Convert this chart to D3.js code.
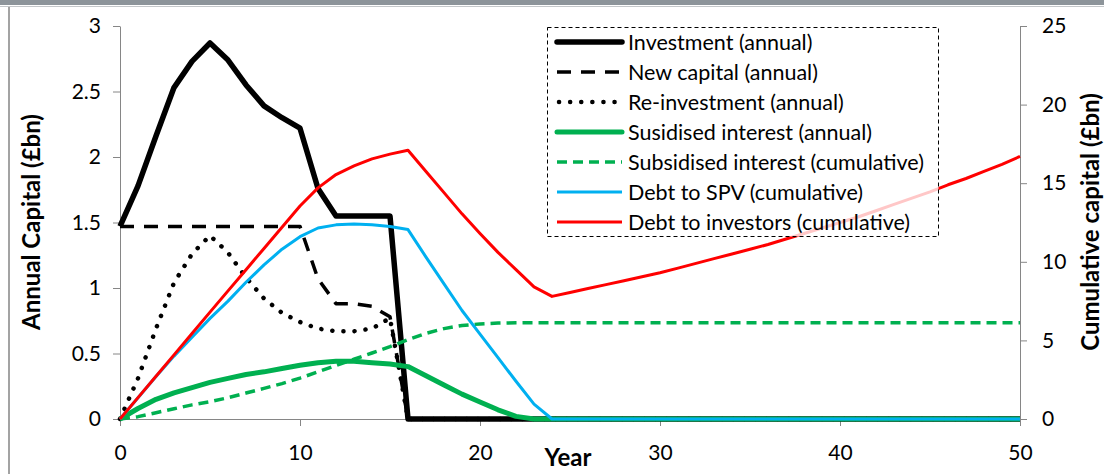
<!DOCTYPE html>
<html>
<head>
<meta charset="utf-8">
<script src="https://cdn.jsdelivr.net/npm/d3@7"></script>
<style>
  body { margin: 0; background: #fff; }
  svg text { font-family: Lato, "Open Sans", sans-serif; fill: #000; }
</style>
</head>
<body>
<div id="chart"></div>
<script>

// Values, one per year (0..50)
var investment = [1.47, 1.78, 2.16, 2.53, 2.73, 2.87, 2.74, 2.55, 2.39, 2.30,
  2.22, 1.76, 1.55, 1.55, 1.55, 1.55, 0, 0, 0, 0,
  0, 0, 0, 0, 0, 0, 0, 0, 0, 0,
  0, 0, 0, 0, 0, 0, 0, 0, 0, 0,
  0, 0, 0, 0, 0, 0, 0, 0, 0, 0, 0];

var newCapital = [1.47, 1.47, 1.47, 1.47, 1.47, 1.47, 1.47, 1.47, 1.47, 1.47,
  1.47, 1.07, 0.88, 0.88, 0.86, 0.78, 0, 0, 0, 0,
  0, 0, 0, 0, 0, 0, 0, 0, 0, 0,
  0, 0, 0, 0, 0, 0, 0, 0, 0, 0,
  0, 0, 0, 0, 0, 0, 0, 0, 0, 0, 0];

var reinvestment = [0, 0.31, 0.69, 1.04, 1.26, 1.40, 1.27, 1.08, 0.92, 0.81,
  0.74, 0.69, 0.67, 0.67, 0.69, 0.77, 0, 0, 0, 0,
  0, 0, 0, 0, 0, 0, 0, 0, 0, 0,
  0, 0, 0, 0, 0, 0, 0, 0, 0, 0,
  0, 0, 0, 0, 0, 0, 0, 0, 0, 0, 0];

var interestAnnual = [0, 0.08, 0.15, 0.20, 0.24, 0.28, 0.31, 0.34, 0.36, 0.385,
  0.41, 0.43, 0.44, 0.44, 0.43, 0.42, 0.40, 0.33, 0.26, 0.19,
  0.13, 0.07, 0.02, 0, 0, 0, 0, 0, 0, 0,
  0, 0, 0, 0, 0, 0, 0, 0, 0, 0,
  0, 0, 0, 0, 0, 0, 0, 0, 0, 0, 0];

// right axis (cumulative)
var interestCumulative = [0, 0.15, 0.4, 0.65, 0.9, 1.1, 1.35, 1.65, 1.95, 2.25,
  2.6, 3.0, 3.4, 3.8, 4.2, 4.6, 5.05, 5.45, 5.75, 5.95,
  6.05, 6.1, 6.12, 6.13, 6.13, 6.13, 6.13, 6.13, 6.13, 6.13,
  6.13, 6.13, 6.13, 6.13, 6.13, 6.13, 6.13, 6.13, 6.13, 6.13,
  6.13, 6.13, 6.13, 6.13, 6.13, 6.13, 6.13, 6.13, 6.13, 6.13, 6.13];

var debtSPV = [0, 1.35, 2.7, 4.0, 5.2, 6.4, 7.5, 8.7, 9.8, 10.8,
  11.6, 12.15, 12.35, 12.4, 12.35, 12.25, 12.05, 10.3, 8.6, 6.9,
  5.4, 3.9, 2.4, 0.95, 0, 0, 0, 0, 0, 0,
  0, 0, 0, 0, 0, 0, 0, 0, 0, 0,
  0, 0, 0, 0, 0, 0, 0, 0, 0, 0, 0];

var debtInvestors = [0, 1.36, 2.72, 4.08, 5.44, 6.8, 8.15, 9.5, 10.85, 12.2,
  13.55, 14.7, 15.55, 16.1, 16.55, 16.85, 17.1, 15.75, 14.4, 13.05,
  11.8, 10.6, 9.5, 8.4, 7.8, 8.05, 8.3, 8.55, 8.8, 9.05,
  9.3, 9.6, 9.9, 10.2, 10.5, 10.8, 11.1, 11.45, 11.8, 12.15,
  12.5, 12.85, 13.25, 13.65, 14.05, 14.45, 14.9, 15.3, 15.75, 16.2, 16.7];

var seriesNames = ["Investment (annual)", "New capital (annual)", "Re-investment (annual)",
  "Susidised interest (annual)", "Subsidised interest (cumulative)",
  "Debt to SPV (cumulative)", "Debt to investors (cumulative)"];

var xTicks = [0, 10, 20, 30, 40, 50];
var leftTicks = [0, 0.5, 1, 1.5, 2, 2.5, 3];
var rightTicks = [0, 5, 10, 15, 20, 25];

var W = 1104, H = 474;

var svg = d3.select("#chart").append("svg")
  .attr("width", W)
  .attr("height", H);

// window frame bits
svg.append("rect").attr("x", 0).attr("y", 0).attr("width", W).attr("height", 5).attr("fill", "#8d949a");
svg.append("line").attr("x1", 0).attr("x2", W).attr("y1", 6.5).attr("y2", 6.5).attr("stroke", "#c4c7ca").attr("stroke-width", 1);
svg.append("line").attr("x1", 9).attr("x2", 9).attr("y1", 7).attr("y2", H).attr("stroke", "#a3a3a3").attr("stroke-width", 2);

var x = d3.scaleLinear().domain([0, 50]).range([120, 1020]);
var yL = d3.scaleLinear().domain([0, 3]).range([419, 26]);
var yR = d3.scaleLinear().domain([0, 25]).range([419, 26]);

var axisColor = "#868686";

function styleAxis(g) {
  g.select(".domain").attr("stroke", axisColor);
  g.selectAll(".tick line").attr("stroke", axisColor);
  g.selectAll(".tick text").attr("font-size", 21).attr("font-family", "Lato");
}

svg.append("g")
  .attr("transform", "translate(120,0)")
  .call(d3.axisLeft(yL).tickValues(leftTicks).tickFormat(function(d) { return String(d); })
    .tickSizeInner(7).tickSizeOuter(0).tickPadding(12))
  .call(styleAxis);

svg.append("g")
  .attr("transform", "translate(1020,0)")
  .call(d3.axisRight(yR).tickValues(rightTicks).tickFormat(function(d) { return String(d); })
    .tickSizeInner(7).tickSizeOuter(0).tickPadding(15))
  .call(styleAxis);

svg.append("g")
  .attr("transform", "translate(0,419)")
  .call(d3.axisBottom(x).tickValues(xTicks).tickFormat(function(d) { return String(d); })
    .tickSizeInner(7).tickSizeOuter(0).tickPadding(19))
  .call(styleAxis);

// axis titles
svg.append("text")
  .attr("transform", "translate(40,222) rotate(-90)")
  .attr("text-anchor", "middle")
  .attr("font-size", 24).attr("font-weight", "bold")
  .text("Annual Capital (£bn)");

svg.append("text")
  .attr("transform", "translate(1099,222) rotate(-90)")
  .attr("text-anchor", "middle")
  .attr("font-size", 24).attr("font-weight", "bold")
  .text("Cumulative capital (£bn)");

svg.append("text")
  .attr("x", 568).attr("y", 466)
  .attr("text-anchor", "middle")
  .attr("font-size", 24).attr("font-weight", "bold")
  .text("Year");

// series styles, same order as seriesNames
var styles = [
  {data: investment, y: yL, color: "#000000", width: 5.5, dash: null, cap: "butt"},
  {data: newCapital, y: yL, color: "#000000", width: 3.5, dash: "14 10", cap: "butt"},
  {data: reinvestment, y: yL, color: "#000000", width: 4.5, dash: "0.1 11", cap: "round"},
  {data: interestAnnual, y: yL, color: "#00b050", width: 5, dash: null, cap: "butt"},
  {data: interestCumulative, y: yR, color: "#00b050", width: 3.5, dash: "10 6", cap: "butt"},
  {data: debtSPV, y: yR, color: "#00b0f0", width: 3, dash: null, cap: "butt"},
  {data: debtInvestors, y: yR, color: "#ff0000", width: 3, dash: null, cap: "butt"}
];

styles.forEach(function(s) {
  var line = d3.line()
    .x(function(d, i) { return x(i); })
    .y(function(d) { return s.y(d); });
  svg.append("path")
    .datum(s.data)
    .attr("d", line)
    .attr("fill", "none")
    .attr("stroke", s.color)
    .attr("stroke-width", s.width)
    .attr("stroke-dasharray", s.dash)
    .attr("stroke-linecap", s.cap)
    .attr("stroke-linejoin", "round");
});

// legend
var legend = svg.append("g");
legend.append("rect")
  .attr("x", 547.5).attr("y", 27.5).attr("width", 391).attr("height", 209)
  .attr("fill", "#ffffff").attr("fill-opacity", 0.78)
  .attr("stroke", "#000").attr("stroke-width", 1).attr("stroke-dasharray", "4 3");

var rows = legend.selectAll("g.row")
  .data(seriesNames)
  .enter()
  .append("g")
  .attr("class", "row")
  .attr("transform", function(d, i) { return "translate(0," + (42 + i * 30) + ")"; });

rows.append("line")
  .attr("x1", function(d, i) { return styles[i].cap == "round" ? 559 : 557; })
  .attr("x2", 622)
  .attr("y1", 0).attr("y2", 0)
  .attr("stroke", function(d, i) { return styles[i].color; })
  .attr("stroke-width", function(d, i) { return styles[i].width; })
  .attr("stroke-dasharray", function(d, i) { return styles[i].dash; })
  .attr("stroke-linecap", function(d, i) { return i == 0 || i == 3 ? "round" : styles[i].cap; });

rows.append("text")
  .attr("x", 628)
  .attr("y", 7.5)
  .attr("font-size", 21.5)
  .text(function(d) { return d; });

</script>
</body>
</html>
